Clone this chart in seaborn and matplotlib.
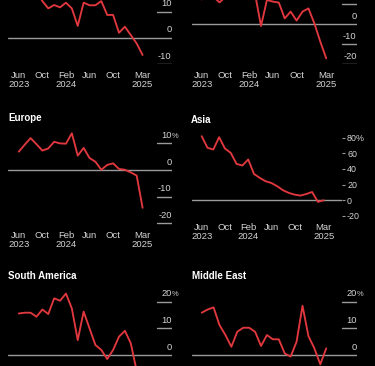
import numpy as np
import pandas as pd
import matplotlib
matplotlib.use("Agg")
import matplotlib.pyplot as plt
import seaborn as sns

# ---------------- data ----------------
months = ["Jun 2023", "Jul 2023", "Aug 2023", "Sep 2023", "Oct 2023", "Nov 2023",
          "Dec 2023", "Jan 2024", "Feb 2024", "Mar 2024", "Apr 2024", "May 2024",
          "Jun 2024", "Jul 2024", "Aug 2024", "Sep 2024", "Oct 2024", "Nov 2024",
          "Dec 2024", "Jan 2025", "Feb 2025", "Mar 2025"]

panel_a = [20, 19, 21, 18, 14.0, 11.2, 12.5, 11.6, 13.4, 11.2, 4.5, 13.4,
           12.4, 12.4, 14.0, 8.7, 8.7, 1.9, 4.2, 1.0, -2.2, -6.6]
panel_b = [12.3, 14, 13.5, 10.8, 13.5, 15, 16, 15, 14, 15, -1, 12,
           11.2, 10.7, 2.8, 6.2, 1.7, 6.2, 7.8, 0.3, -8.8, -17.2]
europe = [6.9, 9.5, 12, 9.7, 7.3, 8.1, 10.6, 10, 9.9, 13.8, 5.4, 8.3,
          4.5, 3.1, 0.1, 1.9, 2.5, 0.4, 0.1, -0.9, -2.1, -14.2]
asia = [81.7, 66.8, 64.7, 80.4, 66, 60.4, 46.4, 44.3, 52, 33.6, 28.5, 24.3,
        22, 17.9, 12.8, 9.4, 7.2, 6, 8, 10.6, -2, 0]
south_america = [15.6, 15.9, 15.9, 14.4, 17.1, 15.4, 21.3, 20.4, 23.1, 17.5, 5.6, 16.3,
                 10, 3.75, 1.9, -1.5, 1.9, 6.9, 9.1, 4.4, -6, -14]
middle_east = [15.9, 17.1, 17.9, 11.25, 7.5, 3.1, 8.75, 10.25, 10.25, 8.75, 3.4, 7.5,
               5.9, 5.9, 0.6, -0.6, 5, 18.5, 7.1, 2.5, -3.5, 2.5]

tick_months = ["Jun 2023", "Oct 2023", "Feb 2024", "Jun 2024", "Oct 2024", "Mar 2025"]
tick_labels = ["Jun\n2023", "Oct", "Feb\n2024", "Jun", "Oct", "Mar\n2025"]

# ---------------- style ----------------
sns.set_theme(style="dark")
BG = "#000000"
RED = "#e0383e"
GRAY = "#9a9a9a"
LBL = "#d4d4d4"
plt.rcParams["font.family"] = ["Liberation Sans", "DejaVu Sans"]
plt.rcParams["axes.unicode_minus"] = False

W, H = 375, 366
fig = plt.figure(figsize=(W / 100, H / 100), dpi=100, facecolor=BG)

idx = {m: i for i, m in enumerate(months)}
tick_pos = [idx[m] for m in tick_months]


def make_axes(x0, x1, z, s, ylim):
    lo, hi = ylim
    top = z - hi * s
    bot = z - lo * s
    return fig.add_axes([x0 / W, 1 - bot / H, (x1 - x0) / W, (bot - top) / H])


def draw(ax, values, xlim, ylim, ticks, pct_tick, style, show_x=True, labelled=None):
    df = pd.DataFrame({"month": [idx[m] for m in months], "value": values})
    ax.set_facecolor(BG)
    sns.lineplot(data=df, x="month", y="value", ax=ax, color=RED, lw=1.35,
                 legend=False, zorder=3)
    ax.axhline(0, color=GRAY, lw=1.0, zorder=2)
    ax.set_xlim(*xlim)
    ax.set_ylim(*ylim)
    ax.set_xlabel("")
    ax.set_ylabel("")
    for sp in ax.spines.values():
        sp.set_visible(False)
    ax.grid(False)
    if show_x:
        ax.set_xticks(tick_pos)
        ax.set_xticklabels(tick_labels, linespacing=1.0)
        ax.tick_params(axis="x", direction="out", length=3, width=0.8, color=GRAY,
                       labelcolor=LBL, labelsize=6.8, pad=1.8)
    else:
        ax.set_xticks([])
    if style == "inside":
        ax.set_yticks([])
        width_px = ax.get_position().width * W
        xmin = 1 - 15 / width_px
        for v in ticks:
            if v != 0:
                ax.axhline(v, xmin=xmin, xmax=1, color=GRAY, lw=1.0, zorder=2)
            if labelled is not None and v not in labelled:
                continue
            ax.annotate(f"{v}", xy=(1, v), xycoords=ax.get_yaxis_transform(),
                        xytext=(0, 2.4), textcoords="offset points",
                        ha="right", va="bottom", fontsize=6.7, color=LBL,
                        annotation_clip=False)
            if v == pct_tick:
                ax.annotate("%", xy=(1, v), xycoords=ax.get_yaxis_transform(),
                            xytext=(0.3, 2.4), textcoords="offset points",
                            ha="left", va="bottom", fontsize=5.4, color=LBL,
                            annotation_clip=False)
    else:
        ax.yaxis.tick_right()
        ax.set_yticks(ticks)
        ax.set_yticklabels([f"{v}%" if v == pct_tick else f"{v}" for v in ticks])
        ax.tick_params(axis="y", direction="out", length=2.2, width=0.8, color=GRAY,
                       labelcolor=LBL, labelsize=6.4, pad=1.8, right=True, left=False)


# left column / right column x extents (pixels) and x limits (month index)
L0, L1 = 8.3, 171.7
R0, R1 = 191.7, 356.7
XL = (-1.78, 25.94)
XR = (-1.69, 26.14)

ax1 = make_axes(L0, L1, 37.7, 2.615, (-10.1, 25))
draw(ax1, panel_a, XL, (-10.1, 25), [10, 0, -10], None, "inside")

ax2 = make_axes(R0, R1, 24.0, 2.0, (-20.2, 25))
draw(ax2, panel_b, XR, (-20.2, 25), [10, 0, -10, -20], None, "inside",
     labelled=[0, -10, -20])

ax3 = make_axes(L0, L1, 170.0, 2.66, (-20.5, 15))
draw(ax3, europe, XL, (-20.5, 15), [10, 0, -10, -20], 10, "inside")

ax4 = make_axes(R0, 341.5, 200.3, 0.785, (-20.8, 90))
draw(ax4, asia, (-1.72, 24.06), (-20.8, 90), [80, 60, 40, 20, 0, -20], 80, "outside")

ax5 = make_axes(L0, L1, 355.0, 2.66, (-25, 25))
draw(ax5, south_america, XL, (-25, 25), [20, 10, 0], 20, "inside", show_x=False)

ax6 = make_axes(R0, R1, 355.0, 2.66, (-25, 25))
draw(ax6, middle_east, XR, (-25, 25), [20, 10, 0], 20, "inside", show_x=False)

# panel titles
for name, x, y in [("Europe", L0, 117.7), ("Asia", R0 - 0.5, 120.0),
                   ("South America", L0, 275.7), ("Middle East", R0, 275.7)]:
    fig.text(x / W, 1 - y / H, name, ha="left", va="center", fontsize=7,
             fontweight="bold", color="white")

fig.savefig("out.png", dpi=100, facecolor=BG)
